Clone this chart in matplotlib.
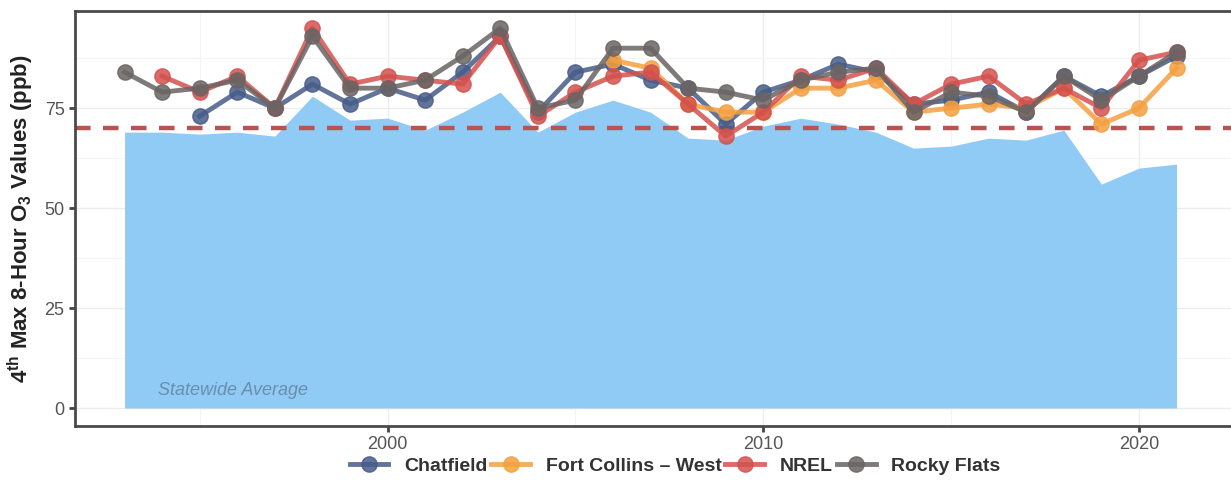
import matplotlib
matplotlib.use("Agg")
import matplotlib.pyplot as plt
import numpy as np
from matplotlib.lines import Line2D

plt.rcParams["font.family"] = ["Liberation Sans", "DejaVu Sans"]
plt.rcParams["mathtext.fontset"] = "custom"
plt.rcParams["mathtext.rm"] = "Liberation Sans"
plt.rcParams["mathtext.bf"] = "Liberation Sans:bold"

years = list(range(1993, 2022))

statewide = [69, 69, 68.5, 69, 68, 78, 72, 72.5, 69.5, 74, 79, 69, 74, 77, 74,
             67.5, 67, 70.5, 72.5, 71, 69, 65, 65.5, 67.5, 67, 69.5, 56, 60, 61]

chatfield_years = list(range(1995, 2022))
chatfield = [73, 79, 75, 81, 76, 80, 77, 84, 93, 74, 84, 86, 82, 80, 71, 79, 82,
             86, 84, 76, 77, 79, 74, 83, 78, 83, 88]

fcw_years = list(range(2006, 2022))
fort_collins_west = [87, 85, 76, 74, 74, 80, 80, 82, 74, 75, 76, 75, 80, 71, 75, 85]

nrel_years = list(range(1994, 2022))
nrel = [83, 79, 83, 75, 95, 81, 83, 82, 81, 93, 73, 79, 83, 84, 76, 68, 74, 83,
        82, 85, 76, 81, 83, 76, 80, 75, 87, 89]

rocky_years = list(range(1993, 2022))
rocky_flats = [84, 79, 80, 82, 75, 93, 80, 80, 82, 88, 95, 75, 77, 90, 90, 80, 79,
               77, 82, 84, 85, 74, 79, 78, 74, 83, 77, 83, 89]

standard = 70

series = [
    ("Chatfield", chatfield_years, chatfield, "#465c88"),
    ("Fort Collins \u2013 West", fcw_years, fort_collins_west, "#f4a040"),
    ("NREL", nrel_years, nrel, "#d4514d"),
    ("Rocky Flats", rocky_years, rocky_flats, "#6a6464"),
]

fig = plt.figure(figsize=(12.31, 4.91), dpi=100)
ax = fig.add_axes([75/1231, 65/491, 1 - 75/1231, 415/491])

ax.fill_between(years, 0, statewide, color="#8fcbf5", linewidth=0, zorder=1)
ax.axhline(standard, color="#b95352", linestyle=(0, (3.5, 2.8)), linewidth=3.2, zorder=2)

for name, xs, ys, c in series:
    ax.plot(xs, ys, color=c, linewidth=3.5, marker="o", markersize=11,
            alpha=0.85, zorder=3)

ax.text(1993.9, 4.5, "Statewide Average", style="italic", color="#6b8eae",
        fontsize=13, va="center", ha="left", zorder=4)

ax.set_xlim(1991.68, 2022.45)
ax.set_ylim(-4.5, 99.3)
ax.set_xticks([2000, 2010, 2020])
ax.set_yticks([0, 25, 50, 75])
ax.set_xticks([1995, 2005, 2015], minor=True)
ax.set_yticks([12.5, 37.5, 62.5, 87.5], minor=True)
ax.grid(True, which="major", color="#ececec", linewidth=1.0, zorder=0)
ax.grid(True, which="minor", color="#f4f4f4", linewidth=0.8, zorder=0)
ax.set_axisbelow(True)
ax.tick_params(axis="both", which="major", colors="#444444", labelcolor="#555555",
               labelsize=13, length=4, width=2)
ax.tick_params(axis="both", which="minor", length=0)
for s in ["left", "bottom", "top"]:
    ax.spines[s].set_color("#4a4a4a")
    ax.spines[s].set_linewidth(2)
ax.spines["right"].set_visible(False)

ax.set_ylabel(r"4$^{\mathbf{th}}$ Max 8-Hour O$_{\mathbf{3}}$ Values (ppb)",
              fontsize=16, fontweight="bold", color="#222222", labelpad=6)

handles = [Line2D([0], [0], color=c, linewidth=3.5, marker="o", markersize=11, alpha=0.85)
           for _, _, _, c in series]
labels = [s[0] for s in series]
leg = fig.legend(handles, labels, loc="center", bbox_to_anchor=(675/1231, 25/491),
                 ncol=4, frameon=False, handlelength=2.0, columnspacing=0.2,
                 handletextpad=0.8, prop={"weight": "bold", "size": 14})
for t in leg.get_texts():
    t.set_color("#333333")

fig.savefig("out.png", dpi=100)
